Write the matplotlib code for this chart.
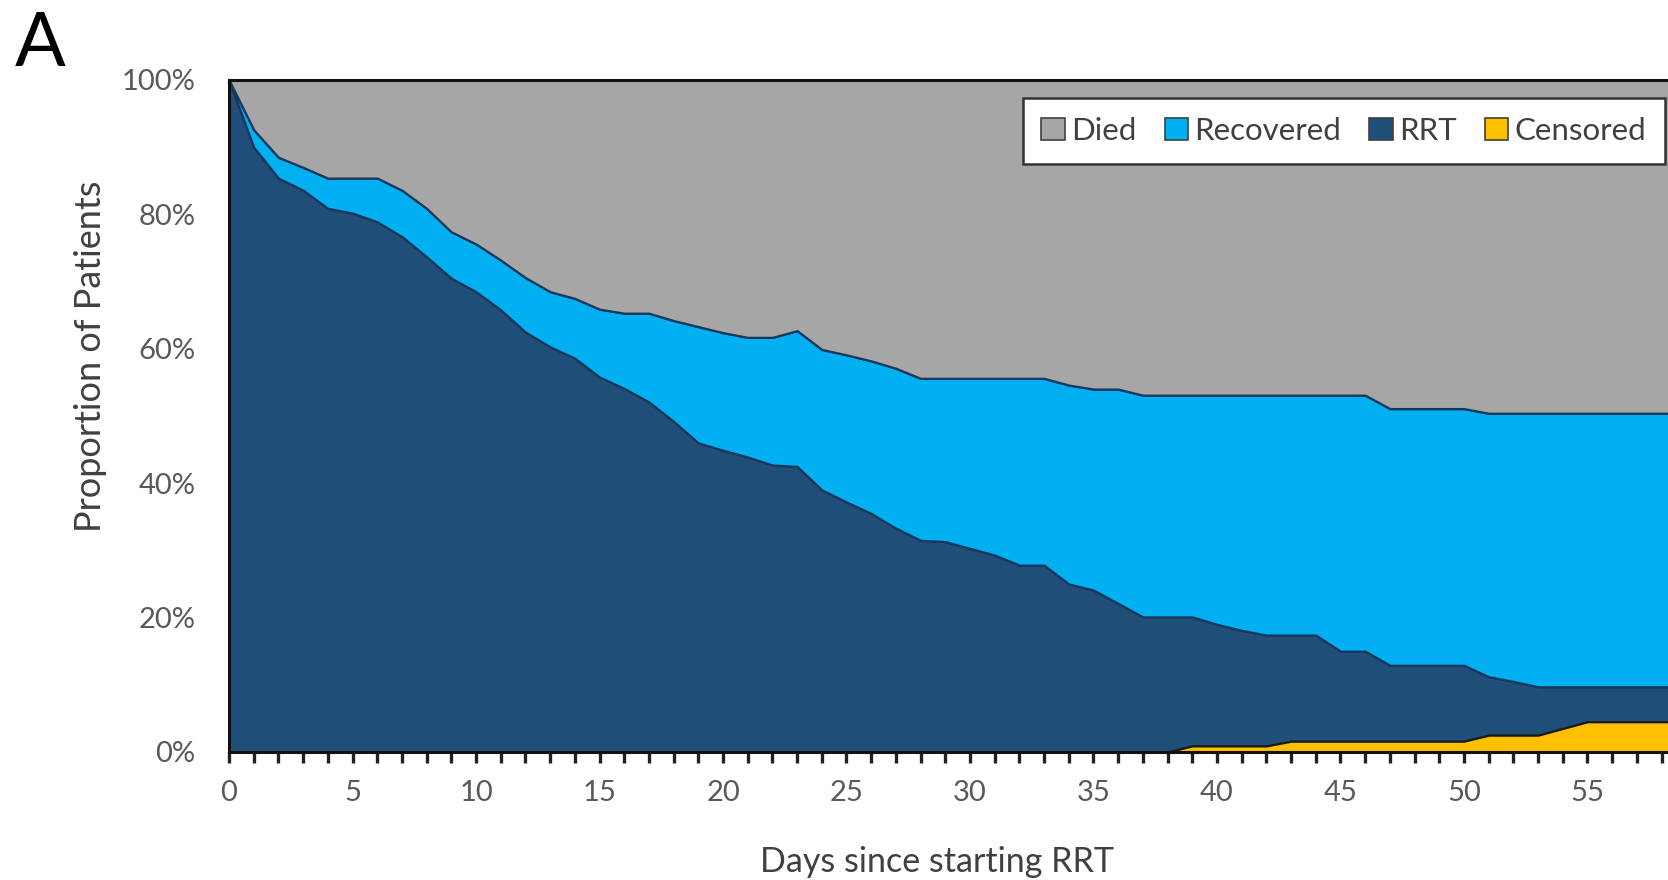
import matplotlib.pyplot as plt
from matplotlib.ticker import MultipleLocator, FuncFormatter
import numpy as np

# --- Data: share of patients in each state by day since starting RRT (%) ---
days = np.arange(0, 60)

censored = [0.0] * 39 + [0.9, 0.9, 0.9, 0.9,
                         1.6, 1.6, 1.6, 1.6, 1.6, 1.6, 1.6, 1.6,
                         2.5, 2.5, 2.5, 3.5,
                         4.5, 4.5, 4.5, 4.5, 4.5]

rrt = [100.0, 90.0, 85.4, 83.6, 80.9, 80.2, 78.9, 76.7, 73.7, 70.5,
       68.5, 65.8, 62.5, 60.3, 58.6, 55.8, 54.1, 52.1, 49.2, 46.0,
       44.9, 43.9, 42.7, 42.5, 39.0, 37.2, 35.5, 33.3, 31.5, 31.3,
       30.3, 29.3, 27.8, 27.8, 25.0, 24.1, 22.1, 20.1, 20.1, 19.2,
       18.1, 17.2, 16.5, 15.8, 15.8, 13.4, 13.4, 11.3, 11.3, 11.3,
       11.3, 8.7, 8.0, 7.2, 6.2, 5.2, 5.2, 5.2, 5.2, 5.2]

recovered = [0.0, 2.6, 3.1, 3.4, 4.5, 5.2, 6.5, 6.9, 7.2, 6.9,
             7.1, 7.4, 8.1, 8.2, 8.9, 10.1, 11.2, 13.2, 15.0, 17.3,
             17.5, 17.8, 19.0, 20.2, 20.9, 21.9, 22.7, 23.8, 24.1, 24.3,
             25.3, 26.3, 27.8, 27.8, 29.6, 29.9, 31.9, 33.0, 33.0, 33.0,
             34.1, 35.0, 35.7, 35.7, 35.7, 38.1, 38.1, 38.2, 38.2, 38.2,
             38.2, 39.2, 39.9, 40.7, 40.7, 40.7, 40.7, 40.7, 40.7, 40.7]

died = [0.0, 7.4, 11.5, 13.0, 14.6, 14.6, 14.6, 16.4, 19.1, 22.6,
        24.4, 26.8, 29.4, 31.5, 32.5, 34.1, 34.7, 34.7, 35.8, 36.7,
        37.6, 38.3, 38.3, 37.3, 40.1, 40.9, 41.8, 42.9, 44.4, 44.4,
        44.4, 44.4, 44.4, 44.4, 45.4, 46.0, 46.0, 46.9, 46.9, 46.9,
        46.9, 46.9, 46.9, 46.9, 46.9, 46.9, 46.9, 48.9, 48.9, 48.9,
        48.9, 49.6, 49.6, 49.6, 49.6, 49.6, 49.6, 49.6, 49.6, 49.6]

labels = ['Censored', 'RRT', 'Recovered', 'Died']
colors = ['#FFC000', '#1F4E79', '#00B0F0', '#A6A6A6']

plt.rcParams['font.family'] = ['Lato', 'DejaVu Sans']

fig = plt.figure(figsize=(16.68, 8.8), dpi=100)
ax = fig.add_axes([0.1373, 0.1455, 0.8627, 0.7636])

polys = ax.stackplot(days, censored, rrt, recovered, died,
                     colors=colors, labels=labels,
                     edgecolor='#17375E', linewidth=1.6)
# censored band outlined in black, drawn over the RRT edge
polys[0].set_edgecolor('#1a1a1a')
polys[0].set_zorder(3)

ax.set_xlim(0, 58.26)
ax.set_ylim(0, 100)

# x axis: tick every day, label every 5
ax.xaxis.set_major_locator(MultipleLocator(5))
ax.xaxis.set_minor_locator(MultipleLocator(1))
ax.tick_params(axis='x', which='both', direction='out', length=8, width=2.4,
               color='#222222', labelsize=21, labelcolor='#595959', pad=12)
ax.yaxis.set_major_locator(MultipleLocator(20))
ax.yaxis.set_major_formatter(FuncFormatter(lambda v, p: f'{v:.0f}%'))
ax.tick_params(axis='y', length=0, labelsize=21, labelcolor='#595959', pad=24)

for side in ['left', 'bottom', 'top']:
    ax.spines[side].set_linewidth(2.2)
    ax.spines[side].set_color('#111111')
ax.spines['right'].set_visible(False)
for s in ax.spines.values():
    s.set_zorder(5)

ax.set_xlabel('Days since starting RRT', fontsize=24.5, color='#404040')
ax.xaxis.set_label_coords(0.492, -0.14)
ax.xaxis.label.set_va('top')
ax.set_ylabel('Proportion of Patients', fontsize=26, color='#404040')
ax.yaxis.set_label_coords(-0.085, 0.589)

handles, lbls = ax.get_legend_handles_labels()
leg = ax.legend(handles[::-1], lbls[::-1], loc='upper right',
                bbox_to_anchor=(0.998, 0.973), ncol=4, frameon=True,
                fancybox=False, framealpha=1, fontsize=22.5,
                handlelength=0.75, handleheight=0.75,
                handletextpad=0.2, columnspacing=0.9, borderpad=0.6,
                borderaxespad=0)
leg.get_frame().set_edgecolor('#333333')
leg.get_frame().set_facecolor('white')
leg.get_frame().set_linewidth(1.8)
for h in leg.legend_handles:
    h.set_edgecolor('#404040')
    h.set_linewidth(1.2)
for t in leg.get_texts():
    t.set_color('#404040')

fig.text(0.009, 0.925, 'A', fontsize=54, color='black')

plt.savefig('out.png', dpi=100)
